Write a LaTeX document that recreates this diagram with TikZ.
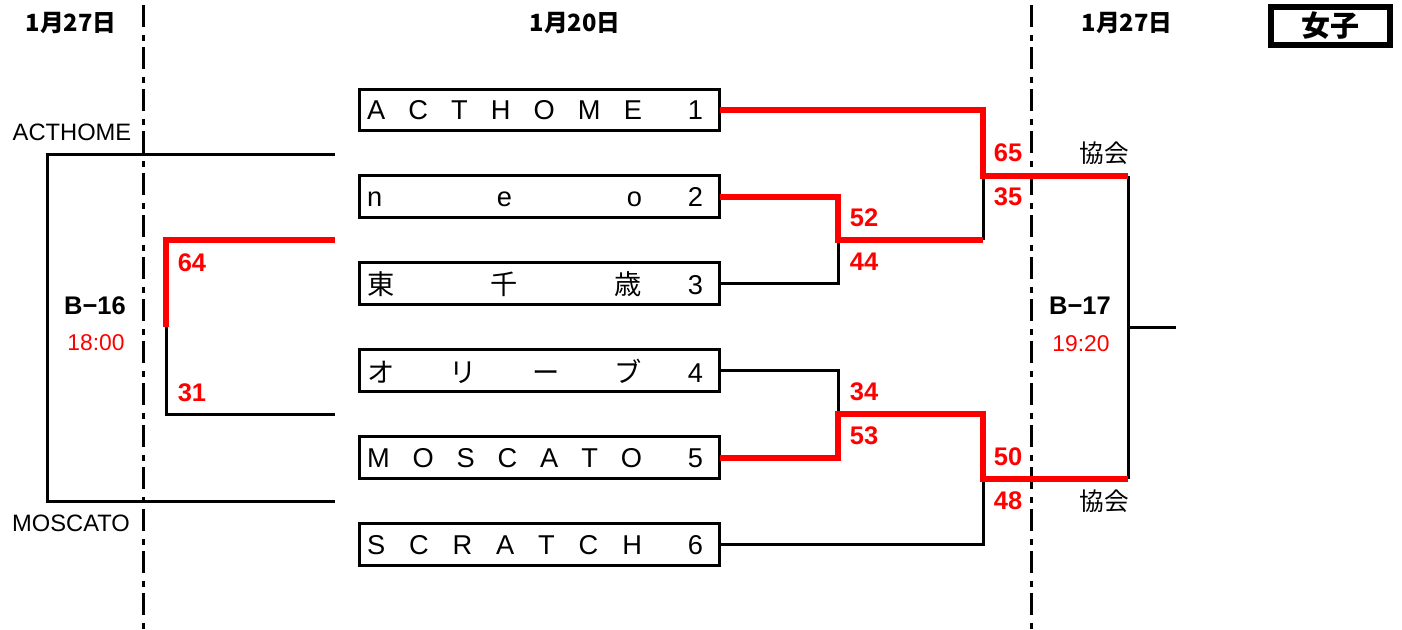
\documentclass[tikz,border=0pt]{standalone}
\usepackage{fontspec}
\setmainfont{Liberation Sans}
\newfontfamily\jp{Noto Sans CJK JP}
\usepackage{tikz}
\usetikzlibrary{positioning}
\definecolor{scorered}{RGB}{255,0,0}
\newcommand{\team}[2]{\makebox[7.1cm][l]{\hspace{0.1cm}\makebox[5.5cm][s]{#1}\hspace{0.92cm}#2}}

\begin{document}
\begin{tikzpicture}[x=0.02cm, y=-0.02cm,
  team/.style={draw, line width=0.06cm, outer sep=0pt, inner sep=0pt,
               minimum width=7.22cm, minimum height=0.84cm,
               font=\fontsize{15.5}{17}\selectfont},
  lose/.style={line width=0.06cm},
  win/.style={line width=0.13cm, draw=scorered},
  score/.style={inner sep=0pt, text=scorered, font=\fontsize{14.5}{16}\selectfont\bfseries},
  date/.style={inner sep=0pt, font=\fontsize{13.5}{15}\selectfont\bfseries\jp},
  club/.style={inner sep=0pt, font=\fontsize{13.5}{16}\selectfont},
  game/.style={inner sep=0pt, font=\fontsize{14.5}{16}\selectfont\bfseries},
  tipoff/.style={inner sep=0pt, text=scorered, font=\fontsize{13}{16}\selectfont},
  divider/.style={line width=0.06cm, dash pattern=on 0.44cm off 0.16cm on 0.12cm off 0.12cm},
  node distance=0.9cm
]
\useasboundingbox (0,0) rectangle (1402,629);

% day dividers
\draw[divider] (143,5) -- (143,629);
\draw[divider] (1031,5) -- (1031,629);

% headers
\node[date] (dayL) at (71,23) {1月27日};
\node[date] (dayM) at (575,23) {1月20日};
\node[date] (dayR) at (1127,23) {1月27日};
\node[draw, line width=0.11cm, minimum width=2.38cm, minimum height=0.76cm, inner sep=0pt,
      font=\fontsize{16.5}{17}\selectfont\bfseries\jp] (women) at (1330.5,26) {女子};

% teams
\node[team] at (539.5,110) (t1) {\team{A\hfill C\hfill T\hfill H\hfill O\hfill M\hfill E}{1}};
\node[team, below=of t1] (t2) {\team{n\hfill e\hfill o}{2}};
\node[team, below=of t2] (t3) {\team{{\jp 東}\hfill{\jp 千}\hfill{\jp 歳}}{3}};
\node[team, below=of t3] (t4) {\team{{\jp オ}\hfill{\jp リ}\hfill{\jp ー}\hfill{\jp ブ}}{4}};
\node[team, below=of t4] (t5) {\team{M\hfill O\hfill S\hfill C\hfill A\hfill T\hfill O}{5}};
\node[team, below=of t5] (t6) {\team{S\hfill C\hfill R\hfill A\hfill T\hfill C\hfill H}{6}};

% bracket points
\coordinate (q23) at (838,240);
\coordinate (q45) at (838,414);
\coordinate (r23) at (983,240);
\coordinate (r45) at (983,414);
\coordinate (s1) at (983,176);
\coordinate (s2) at (983,479);
\coordinate (f1) at (1128,176);
\coordinate (f2) at (1128,479);
\coordinate (fin) at (1176,327);
\coordinate (a1) at (335,154);
\coordinate (a2) at (335,501);
\coordinate (aL) at (47,154);
\coordinate (c1) at (335,240);
\coordinate (c2) at (335,414);
\coordinate (cj) at (166,327);

% losing lines
\draw[lose] (t3.east) -| (q23);
\draw[lose] (t4.east) -| (q45);
\draw[lose] (r23) -- (s1);
\draw[lose] (t6.east) -| (s2);
\draw[lose] (f1) -- (f2);
\draw[lose] (f1 |- fin) -- (fin);
\draw[lose] (a1) -- (aL) |- (a2);
\draw[lose] (cj) |- (c2);

% winning lines
\draw[win] (t1.east) -| (s1) -- (f1);
\draw[win] (t2.east) -| (q23) -- (r23);
\draw[win] (t5.east) -| (q45) -- (r45) -- (s2) -- (f2);
\draw[win] (c1) -| (cj);

% scores
\node[score] (sc1) at (1008,153) {65};
\node[score] (sc2) at (1008,197) {35};
\node[score] (sc3) at (864,218) {52};
\node[score] (sc4) at (864,262) {44};
\node[score] (sc5) at (864,392) {34};
\node[score] (sc6) at (864,436) {53};
\node[score] (sc7) at (1008,457) {50};
\node[score] (sc8) at (1008,501) {48};
\node[score] (sc9) at (192,263) {64};
\node[score] (sc10) at (192,393) {31};

% games
\node[club] (nA) at (72,132) {ACTHOME};
\node[club] (nM) at (71,523) {MOSCATO};
\node[game] (g16) at (95,306) {B−16};
\node[tipoff] (h16) at (96,343) {18:00};
\node[game] (g17) at (1080,306) {B−17};
\node[tipoff] (h17) at (1081,344) {19:20};
\node[club, font=\fontsize{14}{16}\selectfont\jp] (k1) at (1104,153) {協会};
\node[club, font=\fontsize{14}{16}\selectfont\jp] (k2) at (1104,501) {協会};

\end{tikzpicture}
\end{document}
